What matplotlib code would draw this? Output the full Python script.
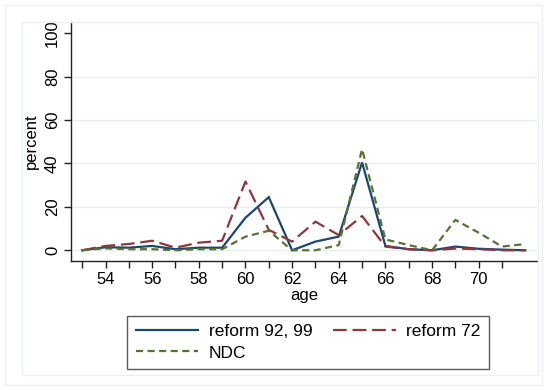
import matplotlib
matplotlib.use("Agg")
import matplotlib.pyplot as plt
from matplotlib.patches import Rectangle

plt.rcParams['font.family'] = ['Liberation Sans', 'DejaVu Sans']

ages = list(range(53, 73))
reform_92_99 = [0, 1.4, 1.2, 2.0, 0.5, 1.2, 1.2, 15.0, 24.5, 0, 4.0, 6.3, 40.5, 2.0, 0.5, 0, 1.7, 0.7, 0.3, 0]
reform_72 = [0, 2.0, 2.9, 4.4, 1.2, 3.5, 4.4, 31.7, 9.4, 4.0, 13.2, 7.0, 15.8, 1.7, 0.5, 0, 0.8, 0.5, 0, 0]
ndc = [0, 0.9, 0.5, 0.5, 0, 0.5, 0.5, 6.3, 9.0, 0, 0, 2.4, 46.6, 5.0, 2.4, 0, 14.0, 8.1, 1.7, 2.9]
labels = ["reform 92, 99", "reform 72", "NDC"]
yticks = [0, 20, 40, 60, 80, 100]
xticks_minor = list(range(53, 72))
xticks_major = list(range(54, 71, 2))

W, H = 547, 390
fig = plt.figure(figsize=(W / 100, H / 100), dpi=100)
fig.patch.set_facecolor("white")

# outer and inner frames
fig.patches.append(Rectangle((5 / W, 5 / H), (W - 5 - 5) / W, (H - 5 - 5) / H, transform=fig.transFigure,
                             fill=False, edgecolor="#e8f0f1", lw=1))
fig.patches.append(Rectangle((22 / W, (H - 375) / H), (538 - 22) / W, (375 - 22) / H, transform=fig.transFigure,
                             fill=False, edgecolor="#e8f0f1", lw=1))

ax = fig.add_axes([71 / W, (H - 260.7) / H, (537 - 71) / W, (260.7 - 22) / H])
ax.set_facecolor("white")

navy = "#1a476f"
maroon = "#90353b"
green = "#55752f"

l1, = ax.plot(ages, reform_92_99, color=navy, lw=1.6, solid_joinstyle="miter")
l2, = ax.plot(ages, reform_72, color=maroon, lw=1.6, dashes=(6.2, 2.6))
l3, = ax.plot(ages, ndc, color=green, lw=1.6, dashes=(3.2, 2.0))

ax.set_xlim(52.52, 72.5)
ax.set_ylim(-4.8, 105.2)

for y in [0, 20, 40, 60, 80]:
    ax.axhline(y, color="#e6eef0", lw=1, zorder=0)

ax.set_yticks(yticks)
ax.set_yticklabels([str(v) for v in yticks], rotation=90, va="center")
ax.set_xticks(xticks_minor, minor=True)
ax.set_xticks(xticks_major)
ax.set_xticklabels([str(v) for v in xticks_major])

for s in ["top", "right"]:
    ax.spines[s].set_visible(False)
for s in ["left", "bottom"]:
    ax.spines[s].set_color("#222222")
    ax.spines[s].set_linewidth(1)

ax.tick_params(axis="both", which="both", direction="out", length=5, width=1, color="#222222",
               labelsize=12, pad=3)
ax.tick_params(axis="x", which="minor", length=5)

ax.set_xlabel("age", fontsize=12, labelpad=1)
ax.set_ylabel("percent", fontsize=12, labelpad=4)

leg = fig.legend([l1, l3, l2], [labels[0], labels[2], labels[1]], ncol=2, loc="upper left",
                 bbox_to_anchor=(127 / W, (H - 315.5) / H), fontsize=12.5,
                 frameon=True, fancybox=False, handlelength=3.6, handletextpad=0.6,
                 columnspacing=1.2, labelspacing=0.35, borderpad=0.5, borderaxespad=0)
leg.get_frame().set_edgecolor("#333333")
leg.get_frame().set_linewidth(1)

fig.savefig("out.png", dpi=100, facecolor="white")
